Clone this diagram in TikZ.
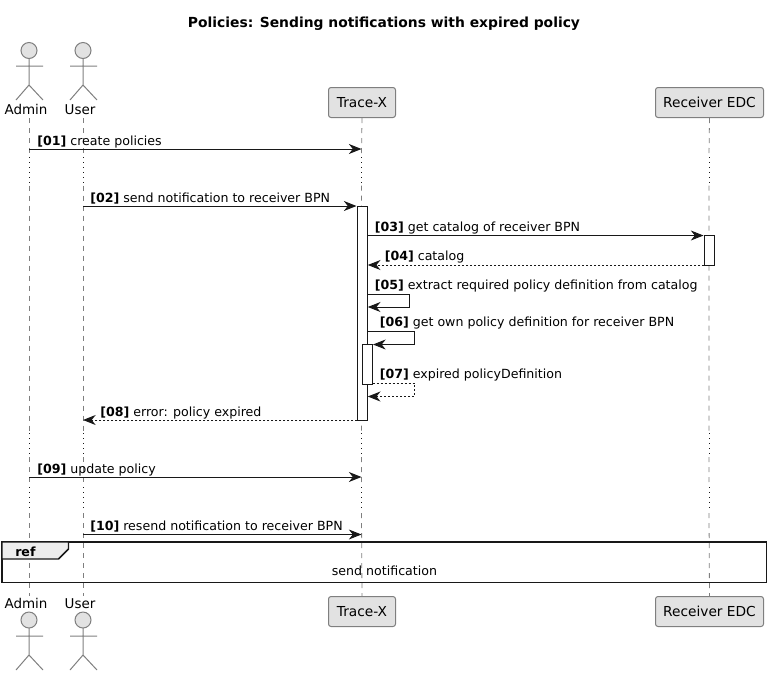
\documentclass[tikz,border=0pt]{standalone}
\usepackage{fontspec}
\setmainfont{DejaVu Sans}
\usetikzlibrary{arrows.meta,calc}
\definecolor{partfill}{HTML}{E2E2E2}
\definecolor{partline}{HTML}{7F7F7F}
\definecolor{msgline}{HTML}{181818}
\newcommand{\XA}{29}
\newcommand{\XU}{83}
\newcommand{\XT}{361.5}
\newcommand{\XR}{709}
\newcommand{\msgfont}{\fontsize{9.45pt}{11pt}\selectfont}
\tikzset{
  msg/.style={-{Stealth[length=9.5pt,width=7.5pt,inset=3pt]},color=msgline,line width=0.75pt},
  reply/.style={msg,dash pattern=on 1.5pt off 1.5pt},
  life/.style={color=partline,line width=0.6pt,dash pattern=on 3.75pt off 3.75pt},
  delayed/.style={color=msgline,line width=0.75pt,dash pattern=on 0.75pt off 3pt},
  party/.style={draw=partline,fill=partfill,rounded corners=1.9pt,line width=0.75pt,inner sep=0pt,
    font=\fontsize{10.3pt}{12pt}\selectfont},
  who/.style={anchor=base,inner sep=0pt,font=\fontsize{10.1pt}{12pt}\selectfont},
  stick/.style={draw=partline,line width=0.75pt},
  activation/.style={draw=msgline,fill=white,line width=0.75pt},
  label/.style={anchor=base west,inner sep=0pt,font=\msgfont},
}
\begin{document}
\begin{tikzpicture}[x=0.75pt,y=-0.75pt]
  \useasboundingbox (0,0) rectangle (771,676);

  % title
  \node[inner sep=0pt,font=\fontsize{10.4pt}{12pt}\selectfont\bfseries] (title) at (384,23.5) {Policies: Sending notifications with expired policy};

  % participants at the top and at the bottom
  \node[party,minimum width=50.25pt,minimum height=22.5pt] (traceTop) at (\XT+.5,102.5) {Trace-X};
  \node[party,minimum width=81pt,minimum height=22.5pt] (edcTop) at (\XR.5,102.5) {Receiver EDC};
  \node[party,minimum width=50.25pt,minimum height=22.5pt] (traceBot) at (\XT+.5,611.5) {Trace-X};
  \node[party,minimum width=81pt,minimum height=22.5pt] (edcBot) at (\XR.5,611.5) {Receiver EDC};
  \node[who] (adminTop) at (26,114.5) {Admin};
  \node[who] (userTop) at (80,114.5) {User};
  \node[who] (adminBot) at (26,608.5) {Admin};
  \node[who] (userBot) at (80,608.5) {User};

  % lifelines, dashed with dotted parts for the delays
  \draw[life] (\XA,118) -- (\XA,155) (\XA,185.5) -- (\XA,431) (\XA,457) -- (\XA,484) (\XA,513) -- (\XA,596);
  \draw[life] (\XU,118) -- (\XU,155) (\XU,185.5) -- (\XU,431) (\XU,457) -- (\XU,484) (\XU,513) -- (\XU,596);
  \draw[life] (traceTop.south) -- (\XT,155) (\XT,185.5) -- (\XT,431) (\XT,457) -- (\XT,484) (\XT,513) -- (traceBot.north);
  \draw[life] (edcTop.south) -- (\XR,155) (\XR,185.5) -- (\XR,431) (\XR,457) -- (\XR,484) (\XR,513) -- (edcBot.north);
  \draw[delayed] (\XA,157) -- (\XA,184) (\XA,433) -- (\XA,455) (\XA,487) -- (\XA,512);
  \draw[delayed] (\XU,157) -- (\XU,184) (\XU,433) -- (\XU,455) (\XU,487) -- (\XU,512);
  \draw[delayed] (\XT,157) -- (\XT,184) (\XT,433) -- (\XT,455) (\XT,487) -- (\XT,512);
  \draw[delayed] (\XR,157) -- (\XR,184) (\XR,433) -- (\XR,455) (\XR,487) -- (\XR,512);

  % stick figures
  \draw[stick,fill=partfill] (\XA,50.5) circle (8);
  \draw[stick] (\XA,58.5) -- (\XA,85) (16,66) -- (43,66) (16,100) -- (\XA,85) -- (43,100);
  \draw[stick,fill=partfill] (\XU,50.5) circle (8);
  \draw[stick] (\XU,58.5) -- (\XU,85) (70,66) -- (97,66) (70,100) -- (\XU,85) -- (97,100);
  \draw[stick,fill=partfill] (\XA,620) circle (8);
  \draw[stick] (\XA,628) -- (\XA,655) (16,636) -- (43,636) (16,670) -- (\XA,655) -- (43,670);
  \draw[stick,fill=partfill] (\XU,620) circle (8);
  \draw[stick] (\XU,628) -- (\XU,655) (70,636) -- (97,636) (70,670) -- (\XU,655) -- (97,670);

  % activation bars
  \draw[activation] (357.3,206) rectangle (367.3,420);
  \draw[activation] (704,235.5) rectangle (714.5,265);
  \draw[activation] (362.5,344.5) rectangle (372.7,384);

  % end points of the messages
  \coordinate (a01) at (\XA,149);   \coordinate (b01) at (\XT,149);
  \coordinate (a02) at (\XU,206);   \coordinate (b02) at (356.5,206);
  \coordinate (a03) at (367.3,235.5); \coordinate (b03) at (703.5,235.5);
  \coordinate (a04) at (704,265);   \coordinate (b04) at (367.8,265);
  \coordinate (a05) at (367.3,294); \coordinate (b05) at (367.8,307);
  \coordinate (a06) at (367.3,331); \coordinate (b06) at (373,344.5);
  \coordinate (a07) at (372.7,383); \coordinate (b07) at (367.8,396.5);
  \coordinate (a08) at (357.3,420); \coordinate (b08) at (\XU,420);
  \coordinate (a09) at (\XA,477);   \coordinate (b09) at (\XT,477);
  \coordinate (a10) at (\XU,534.5); \coordinate (b10) at (\XT,534.5);

  % messages
  \draw[msg] (a01) -- (b01);
  \draw[msg] (a02) -- (b02);
  \draw[msg] (a03) -- (b03);
  \draw[reply] (a04) -- (b04);
  \draw[msg] (a05) -- (409.5,294) -- (409.5,307) -- (b05);
  \draw[msg] (a06) -- (414.5,331) -- (414.5,344.5) -- (b06);
  \draw[reply] (a07) -- (414.5,383) -- (414.5,396.5) -- (b07);
  \draw[reply] (a08) -- (b08);
  \draw[msg] (a09) -- (b09);
  \draw[msg] (a10) -- (b10);

  % message texts
  \node[label] (t01) at (37,145.5) {\textbf{[01]} create policies};
  \node[label] (t02) at (90,202.5) {\textbf{[02]} send notification to receiver BPN};
  \node[label] (t03) at (374.5,231.5) {\textbf{[03]} get catalog of receiver BPN};
  \node[label] (t04) at (384.5,260.5) {\textbf{[04]} catalog};
  \node[label] (t05) at (374.5,289.5) {\textbf{[05]} extract required policy definition from catalog};
  \node[label] (t06) at (379.5,326.5) {\textbf{[06]} get own policy definition for receiver BPN};
  \node[label] (t07) at (379.5,378.5) {\textbf{[07]} expired policyDefinition};
  \node[label] (t08) at (100,416.5) {\textbf{[08]} error: policy expired};
  \node[label] (t09) at (37,473.5) {\textbf{[09]} update policy};
  \node[label] (t10) at (90,530.5) {\textbf{[10]} resend notification to receiver BPN};

  % reference frame
  \draw[line width=1.1pt,color=msgline] (2,542) rectangle (766.5,582.5);
  \draw[line width=1.1pt,color=msgline,fill=black!7] (2,542) -- (68.5,542) -- (68.5,549) -- (58.5,559) -- (2,559) -- cycle;
  \node[label,font=\msgfont\bfseries] (refname) at (15,556.5) {ref};
  \node[label,anchor=base] (reftext) at (384.5,575) {send notification};
\end{tikzpicture}
\end{document}
